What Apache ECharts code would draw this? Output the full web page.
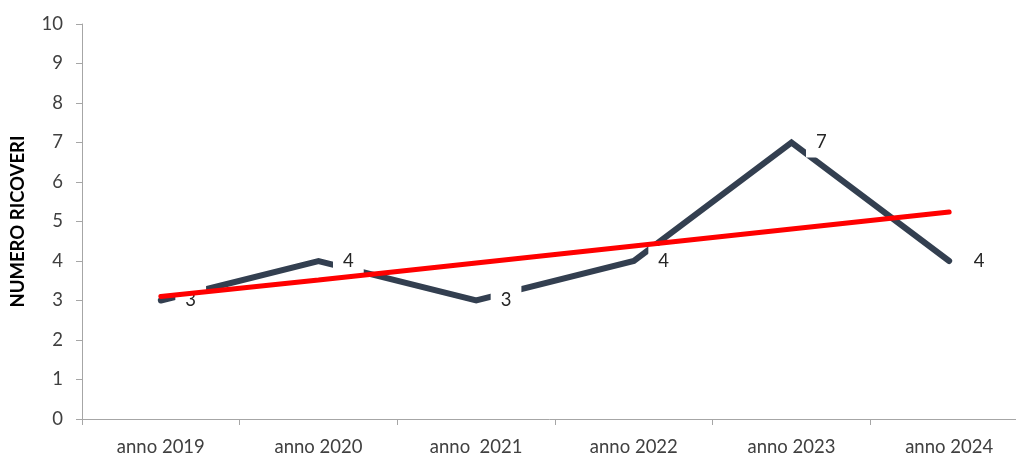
<!DOCTYPE html>
<html>
<head>
<meta charset="utf-8">
<script src="https://cdn.jsdelivr.net/npm/echarts@6/dist/echarts.min.js"></script>
<style>html,body{margin:0;padding:0;background:#fff}#c{width:1016px;height:455px}</style>
</head>
<body>
<div id="c"></div>
<script>
const categories = ['anno 2019', 'anno 2020', 'anno  2021', 'anno 2022', 'anno 2023', 'anno 2024'];
const ricoveri = [3, 4, 3, 4, 7, 4];
const trend = [3.1, 3.52, 3.95, 4.38, 4.81, 5.24];
const yTicks = { min: 0, max: 10, interval: 1 };
const yAxisName = 'NUMERO RICOVERI';

const chart = echarts.init(document.getElementById('c'), null, { renderer: 'canvas' });
chart.setOption({
  animation: false,
  grid: { left: 82, right: -12, top: 24, bottom: 36, outerBoundsMode: 'none', containLabel: false },
  xAxis: {
    type: 'category',
    data: categories,
    boundaryGap: true,
    axisLine: { lineStyle: { color: '#A6A6A6', width: 1 } },
    axisTick: { show: true, length: 6, lineStyle: { color: '#A6A6A6' } },
    axisLabel: { color: '#404040', fontFamily: 'Lato', fontSize: 18.5, margin: 19 }
  },
  yAxis: {
    type: 'value',
    min: yTicks.min, max: yTicks.max, interval: yTicks.interval,
    name: yAxisName,
    nameLocation: 'middle',
    nameRotate: 90,
    nameGap: 54,
    nameTextStyle: { color: '#000', fontFamily: 'Lato', fontWeight: 'bold', fontSize: 18.5 },
    axisLine: { show: true, lineStyle: { color: '#A6A6A6', width: 1 } },
    axisTick: { show: true, length: 6, lineStyle: { color: '#A6A6A6' } },
    splitLine: { show: false },
    axisLabel: { color: '#404040', fontFamily: 'Lato', fontSize: 18.5, margin: 19 }
  },
  series: [
    {
      name: 'Ricoveri',
      type: 'line',
      data: ricoveri,
      z: 2,
      symbol: 'circle',
      symbolSize: 1,
      showSymbol: true,
      itemStyle: { color: '#333F50' },
      lineStyle: { color: '#333F50', width: 6, cap: 'round', join: 'miter' },
      label: {
        show: true,
        position: 'right',
        distance: 14,
        color: '#262626',
        fontFamily: 'Lato',
        fontSize: 18.5,
        lineHeight: 18,
        backgroundColor: '#fff',
        padding: [7, 10, 5, 10]
      }
    },
    {
      name: 'Trend',
      type: 'line',
      data: trend,
      z: 5,
      symbol: 'none',
      lineStyle: { color: '#FF0000', width: 5, cap: 'round' }
    }
  ]
});
</script>
</body>
</html>
